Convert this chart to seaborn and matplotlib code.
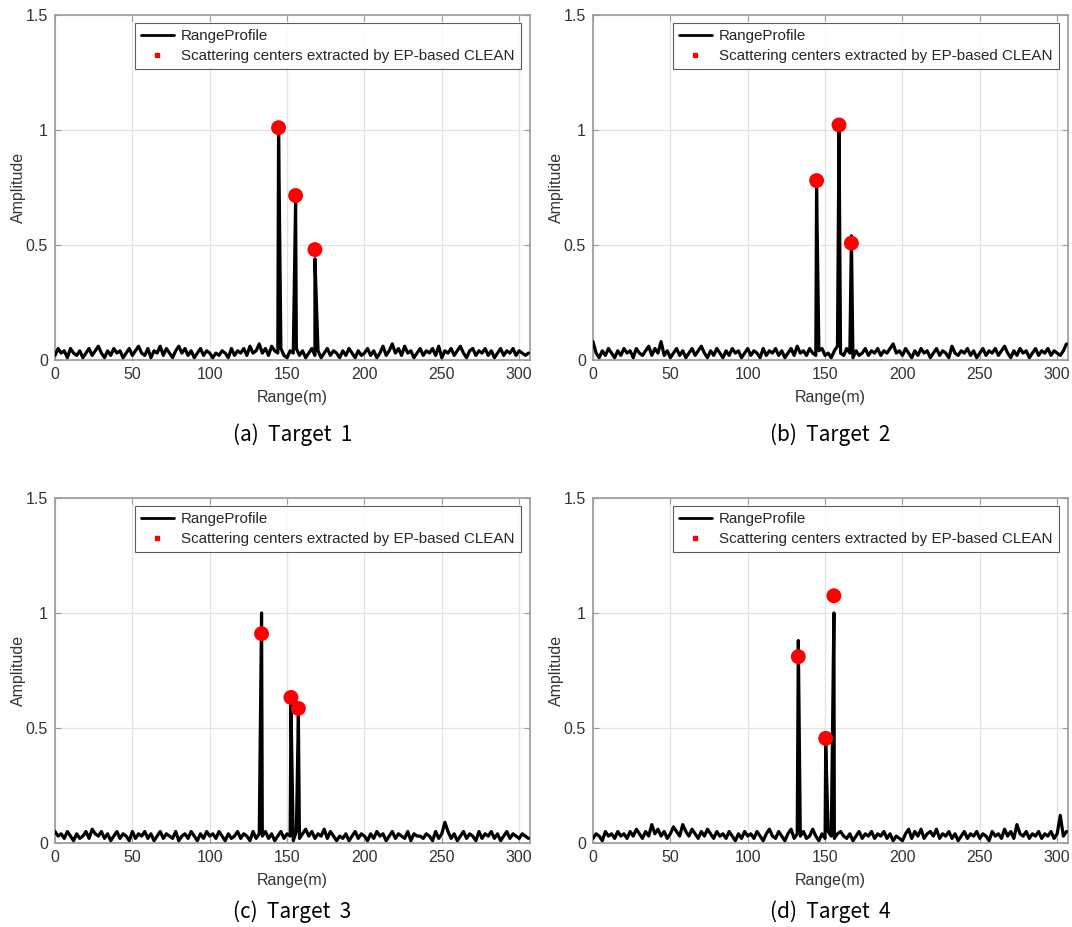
import numpy as np
import pandas as pd
import matplotlib
matplotlib.use("Agg")
import matplotlib.pyplot as plt
import seaborn as sns
from matplotlib.lines import Line2D

# ---------------- data ----------------
range_step = 2.0  # noise samples every 2 m, starting at 0 m
x_max = 307

noise_1 = [0.02,0.05,0.03,0.04,0.01,0.05,0.03,0.02,0.04,0.01,0.03,
           0.05,0.02,0.04,0.06,0.03,0.01,0.04,0.02,0.05,0.03,
           0.04,0.01,0.03,0.05,0.02,0.04,0.06,0.03,0.02,0.05,
           0.01,0.04,0.03,0.06,0.02,0.05,0.03,0.01,0.04,0.06,
           0.03,0.05,0.02,0.04,0.01,0.03,0.05,0.02,0.04,0.03,
           0.01,0.03,0.02,0.04,0.03,0.01,0.05,0.02,0.04,0.03,
           0.05,0.02,0.06,0.03,0.04,0.07,0.03,0.05,0.02,0.06,
           0.04,0.03,0.05,0.02,0.01,0.04,0.03,0.05,0.02,0.04,
           0.01,0.03,0.05,0.02,0.04,0.01,0.03,0.05,0.02,0.04,
           0.03,0.01,0.04,0.02,0.05,0.03,0.01,0.04,0.02,0.03,
           0.05,0.02,0.04,0.01,0.03,0.06,0.02,0.04,0.07,0.03,
           0.05,0.02,0.06,0.03,0.04,0.01,0.03,0.05,0.02,0.04,
           0.03,0.05,0.02,0.06,0.01,0.04,0.03,0.05,0.02,0.04,
           0.06,0.03,0.01,0.04,0.05,0.02,0.04,0.03,0.05,0.02,
           0.04,0.01,0.03,0.05,0.02,0.04,0.03,0.05,0.02,0.04,0.03,0.02,0.03]

noise_2 = [0.08,0.03,0.01,0.04,0.02,0.05,0.03,0.01,0.04,0.02,0.05,
           0.03,0.04,0.01,0.05,0.03,0.02,0.04,0.06,0.02,0.05,
           0.03,0.08,0.02,0.04,0.01,0.03,0.05,0.02,0.04,0.01,
           0.03,0.05,0.02,0.04,0.06,0.03,0.01,0.04,0.02,0.05,
           0.03,0.01,0.04,0.02,0.05,0.03,0.04,0.01,0.03,0.05,
           0.02,0.04,0.03,0.01,0.05,0.02,0.04,0.03,0.05,0.02,
           0.04,0.01,0.03,0.05,0.02,0.06,0.03,0.04,0.02,0.05,
           0.03,0.02,0.04,0.05,0.02,0.03,0.01,0.04,0.06,0.03,
           0.02,0.05,0.03,0.01,0.04,0.02,0.03,0.05,0.02,0.04,
           0.03,0.05,0.02,0.04,0.03,0.05,0.07,0.03,0.04,0.02,
           0.05,0.03,0.01,0.04,0.02,0.05,0.03,0.04,0.01,0.03,
           0.05,0.02,0.04,0.03,0.01,0.06,0.03,0.02,0.04,0.03,
           0.05,0.02,0.04,0.01,0.03,0.05,0.02,0.04,0.03,0.05,
           0.02,0.04,0.06,0.03,0.01,0.04,0.02,0.05,0.03,0.04,
           0.01,0.03,0.05,0.02,0.04,0.03,0.05,0.02,0.04,0.03,0.02,0.04,0.07]

noise_3 = [0.05,0.03,0.04,0.02,0.05,0.03,0.01,0.04,0.02,0.03,0.05,
           0.02,0.06,0.04,0.03,0.05,0.02,0.04,0.01,0.03,0.05,
           0.02,0.04,0.03,0.01,0.05,0.02,0.04,0.03,0.05,0.02,
           0.04,0.01,0.03,0.05,0.02,0.04,0.03,0.02,0.05,0.01,
           0.03,0.04,0.02,0.05,0.03,0.01,0.04,0.02,0.05,0.03,
           0.04,0.02,0.05,0.03,0.01,0.04,0.02,0.03,0.05,0.02,
           0.04,0.03,0.01,0.05,0.02,0.04,0.03,0.05,0.02,0.04,
           0.01,0.03,0.05,0.02,0.04,0.03,0.01,0.05,0.02,0.04,
           0.06,0.03,0.05,0.02,0.04,0.03,0.06,0.02,0.05,0.03,
           0.01,0.03,0.02,0.04,0.01,0.03,0.05,0.02,0.04,0.03,
           0.01,0.04,0.02,0.05,0.03,0.04,0.01,0.03,0.05,0.02,
           0.04,0.03,0.02,0.05,0.01,0.04,0.03,0.03,0.02,0.04,
           0.03,0.01,0.05,0.02,0.04,0.09,0.05,0.02,0.04,0.01,
           0.03,0.05,0.02,0.04,0.03,0.01,0.05,0.02,0.04,0.03,
           0.05,0.02,0.04,0.01,0.03,0.05,0.02,0.04,0.03,0.02,0.04,0.03,0.02]

noise_4 = [0.02,0.04,0.03,0.01,0.05,0.03,0.04,0.02,0.05,0.03,0.04,
           0.02,0.05,0.03,0.06,0.04,0.02,0.05,0.03,0.08,0.04,
           0.06,0.03,0.05,0.02,0.04,0.07,0.05,0.03,0.08,0.05,
           0.03,0.06,0.04,0.02,0.05,0.03,0.06,0.04,0.02,0.05,
           0.03,0.04,0.02,0.05,0.03,0.01,0.04,0.02,0.05,0.03,
           0.04,0.02,0.05,0.03,0.01,0.04,0.06,0.03,0.02,0.05,
           0.03,0.01,0.04,0.06,0.02,0.04,0.03,0.05,0.02,0.03,
           0.06,0.03,0.01,0.04,0.02,0.05,0.03,0.02,0.04,0.05,
           0.03,0.02,0.04,0.01,0.03,0.05,0.02,0.04,0.03,0.05,
           0.02,0.04,0.03,0.05,0.02,0.04,0.01,0.03,0.02,0.01,
           0.04,0.06,0.02,0.05,0.03,0.06,0.02,0.04,0.05,0.03,
           0.06,0.02,0.04,0.03,0.05,0.02,0.04,0.01,0.03,0.05,
           0.02,0.04,0.03,0.05,0.02,0.04,0.03,0.01,0.05,0.03,
           0.04,0.02,0.06,0.03,0.05,0.02,0.08,0.04,0.03,0.05,
           0.02,0.04,0.03,0.05,0.02,0.04,0.03,0.05,0.02,0.04,0.12,0.03,0.05]

peak_x_1 = [144.5, 155.5, 168.0]
peak_amp_1 = [1.00, 0.69, 0.44]
sc_amp_1 = [1.01, 0.715, 0.48]

peak_x_2 = [144.5, 159.0, 167.0]
peak_amp_2 = [0.75, 1.00, 0.54]
sc_amp_2 = [0.78, 1.022, 0.508]

peak_x_3 = [133.5, 152.5, 157.3]
peak_amp_3 = [1.00, 0.60, 0.556]
sc_amp_3 = [0.91, 0.633, 0.585]

peak_x_4 = [132.7, 150.4, 155.7]
peak_amp_4 = [0.88, 0.43, 1.00]
sc_amp_4 = [0.81, 0.455, 1.075]

captions = ["(a)  Target  1", "(b)  Target  2", "(c)  Target  3", "(d)  Target  4"]
x_ticks = [0, 50, 100, 150, 200, 250, 300]
y_ticks = [0, 0.5, 1, 1.5]
y_tick_labels = ["0", "0.5", "1", "1.5"]
x_label = "Range(m)"
y_label = "Amplitude"
legend_labels = ["RangeProfile", "Scattering centers extracted by EP-based CLEAN"]

# ---------------- plotting ----------------
sns.set_style("white")
plt.rcParams["font.family"] = ["Liberation Sans", "DejaVu Sans"]

fig = plt.figure(figsize=(10.72, 9.27), dpi=100)

positions = [
    [55/1072, 1-360/927, 475/1072, 345/927],
    [593/1072, 1-360/927, 475/1072, 345/927],
    [55/1072, 1-843/927, 475/1072, 345/927],
    [593/1072, 1-843/927, 475/1072, 345/927],
]
caption_offsets = [75, 75, 69, 69]

noises = [noise_1, noise_2, noise_3, noise_4]
peaks_x = [peak_x_1, peak_x_2, peak_x_3, peak_x_4]
peaks_amp = [peak_amp_1, peak_amp_2, peak_amp_3, peak_amp_4]
sc_amps = [sc_amp_1, sc_amp_2, sc_amp_3, sc_amp_4]

grid_col = "#e3e3e3"
spine_col = "#9a9a9a"
tick_col = "#333333"

for i in range(4):
    ax = fig.add_axes(positions[i])
    nz = np.array(noises[i])
    gx = np.arange(len(nz)) * range_step
    df = pd.DataFrame({
        "range": np.concatenate([gx, peaks_x[i]]),
        "amp": np.concatenate([nz, peaks_amp[i]]),
    }).sort_values("range")
    sns.lineplot(data=df, x="range", y="amp", ax=ax, color="black",
                 linewidth=2.3, estimator=None, sort=True, zorder=3)
    sc = pd.DataFrame({"range": peaks_x[i], "amp": sc_amps[i]})
    sns.scatterplot(data=sc, x="range", y="amp", ax=ax, color="#ff0000",
                    s=115, edgecolor="none", zorder=4)

    ax.set_xlim(0, x_max)
    ax.set_ylim(0, 1.5)
    ax.set_xticks(x_ticks)
    ax.set_yticks(y_ticks)
    ax.set_yticklabels(y_tick_labels)
    ax.grid(True, color=grid_col, linewidth=0.9, zorder=0)
    ax.set_axisbelow(True)
    for sp in ax.spines.values():
        sp.set_color(spine_col)
        sp.set_linewidth(1.2)
    ax.tick_params(direction="in", length=4, width=0.8, color=spine_col,
                   labelcolor=tick_col, labelsize=11.5, pad=5,
                   top=True, right=True, bottom=True, left=True)
    ax.set_xlabel(x_label, fontsize=11.5, color="#333333", labelpad=6)
    ax.set_ylabel(y_label, fontsize=11.5, color="#333333", labelpad=0)

    handles = [Line2D([0], [0], color="black", linewidth=2.0),
               Line2D([0], [0], color="none", marker="s", markersize=3.5,
                      markerfacecolor="#ff0000", markeredgecolor="#ff0000")]
    leg = ax.legend(handles, legend_labels, loc="upper right",
                    bbox_to_anchor=(0.98, 0.977), borderaxespad=0,
                    fontsize=10.9, frameon=True, fancybox=False,
                    handlelength=2.2, handletextpad=0.45, borderpad=0.4,
                    labelspacing=0.4)
    leg.get_frame().set_edgecolor("#333333")
    leg.get_frame().set_linewidth(0.8)

    x0, y0, w, h = positions[i]
    fig.text(x0 + w/2, y0 - caption_offsets[i]/927, captions[i],
             ha="center", va="center", fontsize=15, color="black",
             family=["Noto Sans CJK KR", "DejaVu Sans"])

fig.savefig("out.png", dpi=100, facecolor="white")
